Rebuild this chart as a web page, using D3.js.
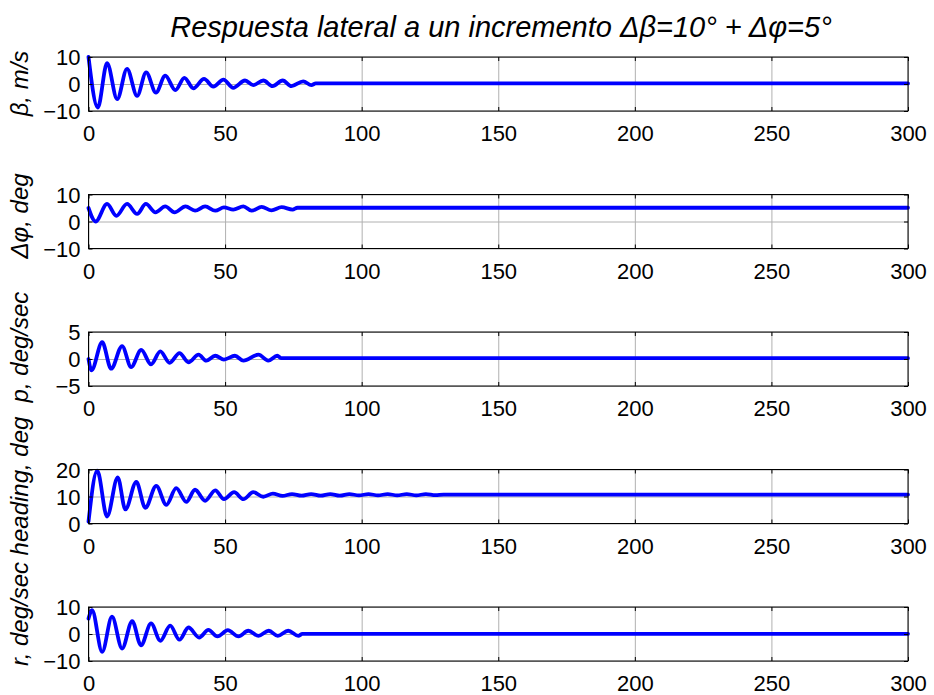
<!DOCTYPE html>
<html>
<head>
<meta charset="utf-8">
<script src="https://cdn.jsdelivr.net/npm/d3@7"></script>
<style>
  html, body { margin: 0; padding: 0; background: #fff; }
  svg { display: block; font-family: "Liberation Sans", Arial, sans-serif; }
</style>
</head>
<body>
<svg id="chart" width="934" height="695"></svg>
<script>
// ---------------- data ----------------
const titleText = "Respuesta lateral a un incremento Δβ=10° + Δφ=5°";

const xDomain = [0, 300];
const xTicks = [0, 50, 100, 150, 200, 250, 300];

// β, m/s
const tBeta = [0, 3.4, 6.8, 10.5, 14.1, 17.8, 21.1, 24.7, 28.1, 31.8, 35.1, 38.4, 42.3, 45.7, 49.4, 53.0, 57.3, 60.3, 64.0, 67.4, 71.1, 74.3, 78.6, 81.6, 83.2, 300];
const vBeta = [10, -8.7, 7.7, -5.6, 5.6, -4.4, 4.3, -3.2, 3.1, -2.3, 2.3, -1.6, 1.9, -1.0, 1.6, -1.4, 1.3, -0.4, 1.3, -0.8, 1.3, -0.8, 1.0, -0.4, 0.2, 0.2];
const yBetaDomain = [-10, 10];
const yBetaTicks = [-10, 0, 10];

// Δφ, deg
const tPhi = [0, 2.6, 6.8, 10.2, 14.1, 17.8, 21.0, 24.5, 28.1, 31.5, 35.5, 39.0, 42.7, 46.4, 49.6, 53.0, 56.7, 59.7, 63.4, 67.0, 70.7, 74.7, 76.5, 300];
const vPhi = [5.0, 0.0, 6.5, 2.1, 6.5, 2.8, 6.5, 3.4, 5.6, 3.4, 5.6, 4.0, 5.6, 4.0, 5.2, 4.4, 5.6, 4.0, 5.4, 4.1, 5.3, 4.4, 5.1, 5.1];
const yPhiDomain = [-10, 10];
const yPhiTicks = [-10, 0, 10];

// p, deg/sec
const tP = [0, 1.1, 5.0, 8.3, 12.3, 15.6, 19.3, 22.9, 26.3, 29.7, 33.3, 36.6, 40.3, 43.1, 46.4, 49.6, 53.6, 56.7, 62.2, 65.8, 69.1, 70.6, 300];
const vP = [0.0, -2.1, 3.1, -1.8, 2.4, -1.5, 1.7, -1.0, 1.4, -0.7, 1.1, -0.6, 0.8, -0.3, 0.6, -0.1, 0.6, -0.3, 0.8, -0.3, 0.6, 0.15, 0.15];
const yPDomain = [-5, 5];
const yPTicks = [-5, 0, 5];

// heading, deg
const tHead = [0, 3.2, 6.8, 10.7, 13.5, 17.5, 20.8, 24.8, 28.5, 32.1, 35.8, 39.0, 42.7, 46.4, 49.6, 53.3, 56.7, 60.3, 64.0, 67.5, 71.0, 74.5, 78.0, 81.5, 85.0, 88.5, 92.0, 95.5, 99.0, 102.5, 106.0, 109.5, 113.0, 116.5, 120.0, 123.5, 127.0, 130.0, 300];
const vHead = [0.7, 19.6, 2.6, 17.1, 5.2, 15.4, 5.8, 13.9, 6.9, 13.1, 8.0, 12.5, 8.4, 12.3, 9.0, 11.6, 9.0, 11.6, 9.9, 11.1, 10.2, 10.9, 10.3, 10.9, 10.3, 10.9, 10.3, 10.9, 10.4, 10.9, 10.4, 10.9, 10.4, 10.9, 10.4, 10.9, 10.5, 10.7, 10.7];
const yHeadDomain = [0, 20];
const yHeadTicks = [0, 10, 20];

// r, deg/sec
const tR = [0, 1.3, 5.0, 8.6, 12.3, 16.0, 19.2, 22.9, 26.3, 29.9, 33.3, 36.6, 40.5, 43.9, 47.2, 51.0, 54.9, 58.5, 62.2, 66.0, 69.3, 73.1, 76.8, 78.3, 300];
const vR = [5.7, 8.8, -6.6, 6.4, -5.4, 4.8, -4.2, 3.9, -2.5, 3.1, -2.1, 2.4, -1.3, 1.5, -0.9, 1.4, -0.9, 1.2, -0.7, 1.2, -0.7, 1.2, -0.7, 0.05, 0.05];
const yRDomain = [-10, 10];
const yRTicks = [-10, 0, 10];

const panelLabels = ["β, m/s", "Δφ, deg", "p, deg/sec", "heading, deg", "r, deg/sec"];

// ---------------- layout ----------------
const margin = { left: 88.5, right: 908 };
const panelTop0 = 57, panelStep = 137.5, panelH = 54;
const labelCenter = [83.5, 216, 347, 486, 614];   // vertical centre of rotated y labels

const panels = [
  { t: tBeta, v: vBeta, dom: yBetaDomain, ticks: yBetaTicks },
  { t: tPhi,  v: vPhi,  dom: yPhiDomain,  ticks: yPhiTicks },
  { t: tP,    v: vP,    dom: yPDomain,    ticks: yPTicks },
  { t: tHead, v: vHead, dom: yHeadDomain, ticks: yHeadTicks },
  { t: tR,    v: vR,    dom: yRDomain,    ticks: yRTicks }
];

const svg = d3.select("#chart");
const x = d3.scaleLinear().domain(xDomain).range([margin.left, margin.right]);

svg.append("text")
  .attr("x", 501)
  .attr("y", 37)
  .attr("text-anchor", "middle")
  .style("font-size", "29px")
  .style("font-style", "italic")
  .text(titleText);

panels.forEach((p, i) => {
  const top = panelTop0 + i * panelStep;
  const bottom = top + panelH;
  const y = d3.scaleLinear().domain(p.dom).range([bottom, top]);
  const g = svg.append("g");

  // grid
  g.append("g").attr("transform", `translate(0,${bottom})`)
    .call(d3.axisBottom(x).tickValues(xTicks).tickSize(-panelH).tickFormat(""))
    .call(s => s.select(".domain").remove())
    .call(s => s.selectAll("line").attr("stroke", "#b0b0b0").attr("stroke-width", 1));
  g.append("g").attr("transform", `translate(${margin.left},0)`)
    .call(d3.axisLeft(y).tickValues(p.ticks).tickSize(-(margin.right - margin.left)).tickFormat(""))
    .call(s => s.select(".domain").remove())
    .call(s => s.selectAll("line").attr("stroke", "#b0b0b0").attr("stroke-width", 1));

  // data line
  const line = d3.line()
    .x((d, k) => x(p.t[k]))
    .y(d => y(d))
    .curve(d3.curveMonotoneX);
  g.append("path")
    .attr("d", line(p.v))
    .attr("fill", "none")
    .attr("stroke", "#0000ff")
    .attr("stroke-width", 3.8)
    .attr("stroke-linejoin", "round")
    .attr("stroke-linecap", "round");

  // box
  g.append("rect")
    .attr("x", margin.left).attr("y", top)
    .attr("width", margin.right - margin.left).attr("height", panelH)
    .attr("fill", "none").attr("stroke", "#000").attr("stroke-width", 1);

  // inner ticks, all four sides
  const tk = 4;
  const styleTicks = s => {
    s.select(".domain").remove();
    s.selectAll("line").attr("stroke", "#000").attr("stroke-width", 1);
  };
  g.append("g").attr("transform", `translate(0,${bottom})`)
    .call(d3.axisBottom(x).tickValues(xTicks).tickSize(-tk).tickFormat(""))
    .call(styleTicks);
  g.append("g").attr("transform", `translate(0,${top})`)
    .call(d3.axisTop(x).tickValues(xTicks).tickSize(-tk).tickFormat(""))
    .call(styleTicks);
  g.append("g").attr("transform", `translate(${margin.left},0)`)
    .call(d3.axisLeft(y).tickValues(p.ticks).tickSize(-tk).tickFormat(""))
    .call(styleTicks);
  g.append("g").attr("transform", `translate(${margin.right},0)`)
    .call(d3.axisRight(y).tickValues(p.ticks).tickSize(-tk).tickFormat(""))
    .call(styleTicks);

  // tick labels
  g.append("g").attr("transform", `translate(0,${bottom})`)
    .call(d3.axisBottom(x).tickValues(xTicks).tickSize(0).tickPadding(0).tickFormat(d3.format("d")))
    .call(s => s.select(".domain").remove())
    .call(s => s.selectAll("text")
      .attr("y", 30).attr("dy", 0)
      .attr("fill", "#000")
      .style("font-size", "22px")
      .style("font-family", "'Liberation Sans', Arial, sans-serif"));
  g.append("g").attr("transform", `translate(${margin.left},0)`)
    .call(d3.axisLeft(y).tickValues(p.ticks).tickSize(0).tickPadding(8).tickFormat(d3.format("d")))
    .call(s => s.select(".domain").remove())
    .call(s => s.selectAll("text")
      .attr("dy", "0.36em")
      .attr("fill", "#000")
      .style("font-size", "22px")
      .style("font-family", "'Liberation Sans', Arial, sans-serif"));

  // y label
  svg.append("text")
    .attr("transform", `translate(28,${labelCenter[i]}) rotate(-90)`)
    .attr("text-anchor", "middle")
    .style("font-size", "24px")
    .style("font-style", "italic")
    .text(panelLabels[i]);
});
</script>
</body>
</html>
